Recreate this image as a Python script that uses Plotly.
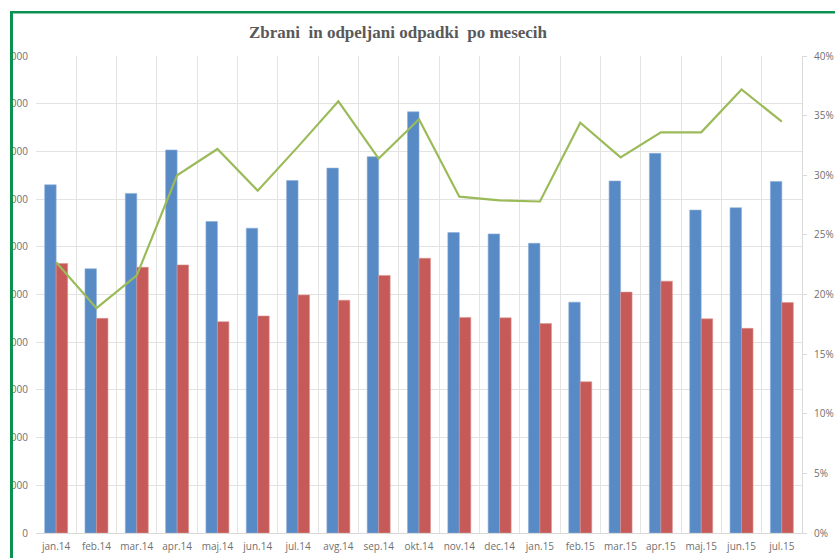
import plotly.graph_objects as go

months = ["jan.14", "feb.14", "mar.14", "apr.14", "maj.14", "jun.14", "jul.14", "avg.14",
          "sep.14", "okt.14", "nov.14", "dec.14", "jan.15", "feb.15", "mar.15", "apr.15",
          "maj.15", "jun.15", "jul.15"]
zbrani = [7300, 5540, 7120, 8030, 6530, 6390, 7390, 7650, 7890, 8830, 6300, 6270, 6075,
          4840, 7380, 7960, 6770, 6820, 7370]
odpeljani = [5650, 4500, 5570, 5620, 4430, 4550, 4990, 4880, 5400, 5760, 4520, 4510, 4390,
             3170, 5050, 5280, 4490, 4290, 4830]
delez = [0.227, 0.1885, 0.216, 0.300, 0.322, 0.287, 0.324, 0.362, 0.314, 0.347, 0.282,
         0.279, 0.278, 0.344, 0.315, 0.336, 0.336, 0.372, 0.345]
left_ticks = [0, 1000, 2000, 3000, 4000, 5000, 6000, 7000, 8000, 9000, 10000]
right_ticks = [0, 0.05, 0.10, 0.15, 0.20, 0.25, 0.30, 0.35, 0.40]

BLUE = "#588AC5"
RED = "#C55A58"
GREEN_LINE = "#9BBB59"
FRAME = "#0b9150"
TICK_COLOR = "#6f6f6f"
GRID = "#e3e3e3"

fig = go.Figure()
fig.add_trace(go.Bar(x=months, y=zbrani, name="Zbrani", marker=dict(color=BLUE, line=dict(color="#8fb0da", width=0.6))))
fig.add_trace(go.Bar(x=months, y=odpeljani, name="Odpeljani", marker=dict(color=RED, line=dict(color="#dc9391", width=0.6))))
fig.add_trace(go.Scatter(x=months, y=delez, name="Delež", mode="lines", yaxis="y2",
                         line=dict(color=GREEN_LINE, width=2.2)))

font = dict(family="Open Sans, sans-serif", size=10, color=TICK_COLOR)

fig.update_layout(
    width=835, height=558,
    margin=dict(l=36, r=33, t=56, b=25, autoexpand=False),
    paper_bgcolor="white", plot_bgcolor="white",
    showlegend=False,
    barmode="group", bargap=0.43, bargroupgap=0,
    title=dict(text="<b>Zbrani  in odpeljani odpadki  po mesecih</b>",
               font=dict(family="Liberation Serif, serif", size=17, color="#595959"),
               x=398/835, xref="container", xanchor="center",
               y=1 - 32/558, yref="container", yanchor="middle", automargin=False),
    xaxis=dict(type="category", tickson="boundaries", showgrid=True, gridcolor=GRID, gridwidth=1,
               ticks="", showline=True, linecolor="#d9d9d9", linewidth=1, tickangle=0,
               automargin=False,
               tickfont=font, ticklabelstandoff=4, zeroline=False),
    yaxis=dict(range=[0, 10000], tickvals=left_ticks, ticktext=[str(v) for v in left_ticks],
               showgrid=True, gridcolor=GRID, gridwidth=1, ticks="", showline=False,
               automargin=False,
               zeroline=False, tickfont=font, ticklabelstandoff=7),
    yaxis2=dict(range=[0, 0.40], tickvals=right_ticks,
                ticktext=[f"{int(round(v*100))}%" for v in right_ticks],
                overlaying="y", side="right", showgrid=False, zeroline=False,
                showline=True, linecolor="#d9d9d9", linewidth=1, automargin=False,
                ticks="outside", ticklen=4, tickcolor="#d9d9d9",
                tickfont=font, ticklabelstandoff=5),
    shapes=[
        dict(type="rect", xref="paper", yref="paper", xsizemode="pixel", xanchor=0,
             x0=-40, x1=-26, y0=-0.2, y1=1.2, fillcolor="white", line=dict(width=0), layer="above"),
        dict(type="rect", xref="paper", yref="paper", xsizemode="pixel", xanchor=0,
             ysizemode="pixel", yanchor=1,
             x0=-26, x1=-23, y0=-520, y1=45, fillcolor=FRAME, line=dict(width=0), layer="above"),
        dict(type="rect", xref="paper", yref="paper", xsizemode="pixel", xanchor=0,
             ysizemode="pixel", yanchor=1,
             x0=-26, x1=810, y0=42.5, y1=45, fillcolor=FRAME, line=dict(width=0), layer="above"),
    ],
)

fig.write_html("out.html", config={"displayModeBar": False},
               post_script="document.body.style.margin='0';document.body.style.overflow='hidden';")
